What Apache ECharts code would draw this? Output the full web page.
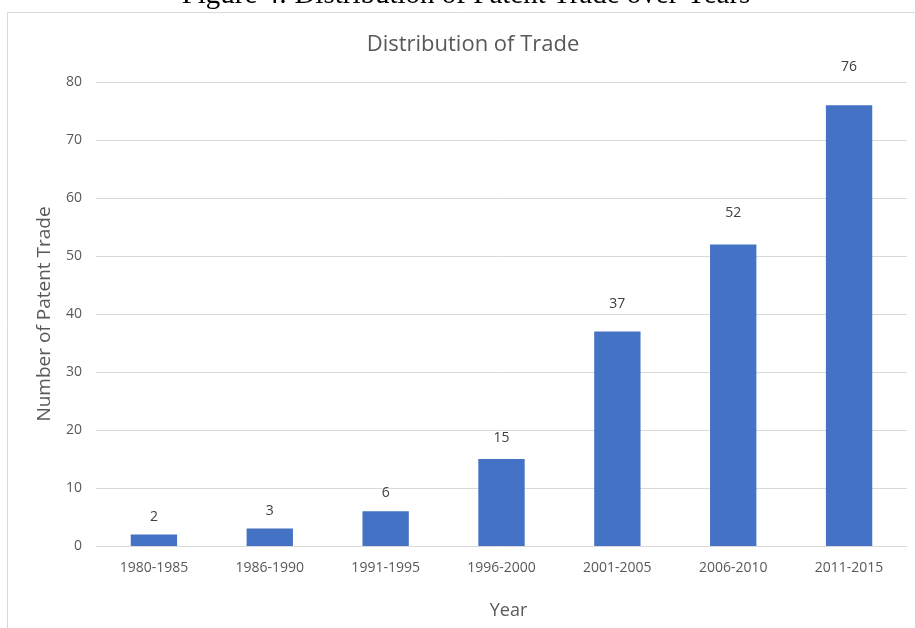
<!DOCTYPE html>
<html><head><meta charset="utf-8">
<script src="https://cdn.jsdelivr.net/npm/echarts@6/dist/echarts.min.js"></script>
<style>html,body{margin:0;padding:0;background:#fff}#c{width:915px;height:628px}</style>
</head><body><div id="c"></div>
<script>
const categories = ['1980-1985','1986-1990','1991-1995','1996-2000','2001-2005','2006-2010','2011-2015'];
const tradeCounts = [2, 3, 6, 15, 37, 52, 76];
const yTicks = [0, 10, 20, 30, 40, 50, 60, 70, 80];

const chart = echarts.init(document.getElementById('c'));
const font = '"Open Sans", "Noto Sans", sans-serif';
chart.setOption({
  animation: false,
  title: {
    text: 'Distribution of Trade',
    left: 468, top: 29, textAlign: 'center',
    textStyle: { fontFamily: font, fontSize: 22, fontWeight: 'normal', color: '#595959' }
  },
  graphic: [
    { type: 'text', x: 466, y: -5, style: { text: 'Figure 4: Distribution of Patent Trade over Years', font: '29px "Liberation Serif", "DejaVu Serif", serif', fill: '#000', align: 'center', verticalAlign: 'middle' } },
    { type: 'rect', shape: { x: 7.5, y: 12.5, width: 920, height: 640 }, style: { fill: 'none', stroke: '#d9d9d9', lineWidth: 1 }, z: -1 }
  ],
  grid: { left: 96, right: 8, top: 82, bottom: 82, containLabel: false },
  xAxis: {
    type: 'category', data: categories,
    name: 'Year', nameLocation: 'middle', nameGap: 56,
    nameTextStyle: { fontFamily: font, fontSize: 18, color: '#595959', padding: [0, 0, 0, 14] },
    axisLine: { lineStyle: { color: '#d9d9d9' } },
    axisTick: { show: false },
    axisLabel: { fontFamily: font, fontSize: 14, color: '#595959', margin: 15 }
  },
  yAxis: {
    type: 'value', min: yTicks[0], max: yTicks[yTicks.length - 1], interval: 10,
    name: 'Number of Patent Trade', nameLocation: 'middle', nameGap: 42,
    nameTextStyle: { fontFamily: font, fontSize: 19, color: '#595959' },
    axisLine: { show: false }, axisTick: { show: false },
    splitLine: { lineStyle: { color: '#d9d9d9' } },
    axisLabel: { fontFamily: font, fontSize: 14, color: '#595959', margin: 14 }
  },
  series: [{
    type: 'bar', barWidth: '40%',
    itemStyle: { color: '#4472C4' },
    data: tradeCounts.map(v => ({ value: v, label: { distance: 10 + 0.28 * v } })),
    label: { show: true, position: 'top', fontFamily: font, fontSize: 14, color: '#404040' }
  }]
});
</script></body></html>
